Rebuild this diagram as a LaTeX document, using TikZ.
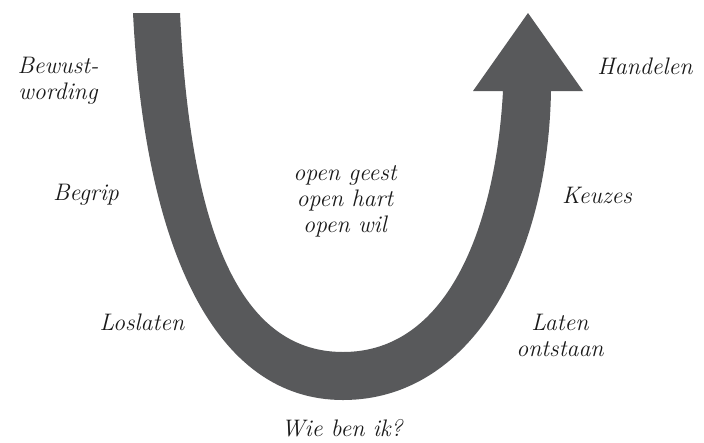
\documentclass[tikz,border=0pt]{standalone}
\usepackage{fontspec}
\usepackage{tikz}
\usetikzlibrary{positioning}
\definecolor{ugray}{HTML}{58595B}
\definecolor{inktext}{HTML}{1A1A1A}
\newcommand{\handfont}{\itshape\addfontfeatures{LetterSpace=12}}

\begin{document}
\begin{tikzpicture}[x=0.025cm, y=-0.025cm,
        label/.style={text=inktext, font=\fontsize{17}{18.5}\selectfont\handfont, align=center, inner sep=0pt},
        ushape/.style={fill=ugray, draw=none}]
        \useasboundingbox (0,0) rectangle (704,442);

        % U-shaped arrow
        \fill [ushape] (133,13) .. controls (145,250) and (215,400) .. (343,400)
            .. controls (471,400) and (548,260) .. (551,91)
            -- (583,91) -- (528,13) -- (473,91) -- (503,91)
            .. controls (496,220) and (451,352) .. (343,352)
            .. controls (235,352) and (190,220) .. (180,13) -- cycle;

        % Labels - left side going down
        \node [label] (bewust) at (58,81) {Bewust-\\wording};
        \node [label] (begrip) at (86,195) {Begrip};
        \node [label] (loslaten) at (142,322) {Loslaten};

        % Labels - bottom and centre
        \node [label] (wie) at (342,428) {Wie ben ik?};
        \node [label] (open) at (345,201) {open geest\\open hart\\open wil};

        % Labels - right side going up
        \node [label] (laten) at (560,335) {Laten\\ontstaan};
        \node [label] (keuzes) at (597,195) {Keuzes};
        \node [label] (handelen) at (645,66) {Handelen};
\end{tikzpicture}
\end{document}
